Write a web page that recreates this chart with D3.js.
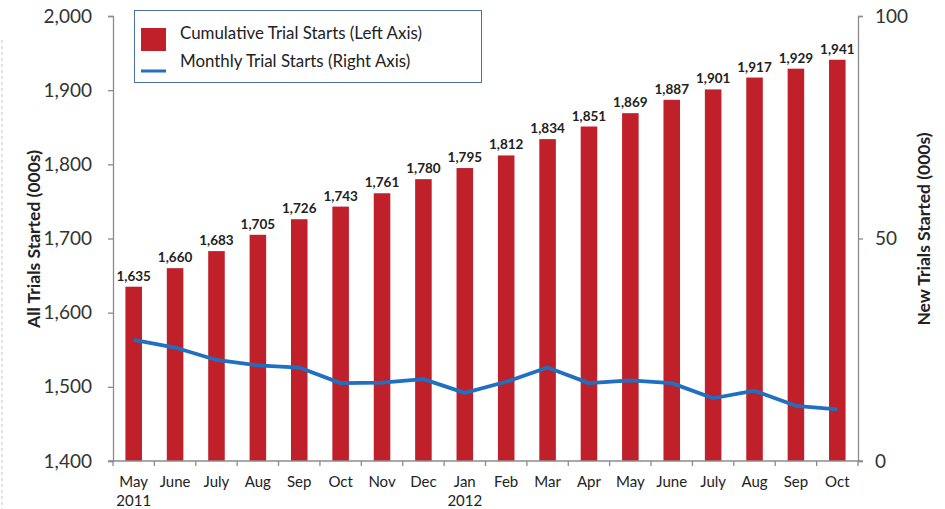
<!DOCTYPE html>
<html><head><meta charset="utf-8">
<script src="https://cdn.jsdelivr.net/npm/d3@7"></script>
<style>body{margin:0;background:#fff}svg{display:block}</style>
</head><body>
<svg id="c" width="945" height="509"></svg>
<script>
const months = ["May","June","July","Aug","Sep","Oct","Nov","Dec","Jan","Feb","Mar","Apr","May","June","July","Aug","Sep","Oct"];
const years = ["2011","","","","","","","","2012","","","","","","","","",""];
const cumulative = [1635,1660,1683,1705,1726,1743,1761,1780,1795,1812,1834,1851,1869,1887,1901,1917,1929,1941];
const monthly = [27.2,25.5,22.7,21.5,21.0,17.5,17.6,18.4,15.3,17.8,21.0,17.5,18.1,17.5,14.1,15.8,12.4,11.6];
const leftTicks = [1400,1500,1600,1700,1800,1900,2000];
const rightTicks = [0,50,100];

const svg = d3.select("#c");
const font = "Lato, 'Open Sans', sans-serif";
const L = 113, R = 858, T = 16, B = 461;
const keys = months.map((m,i)=>i);
const x = d3.scaleBand().domain(keys).range([L,R]).paddingInner(0.6).paddingOuter(0.3);
const yL = d3.scaleLinear().domain([1400,2000]).range([B,T]);
const yR = d3.scaleLinear().domain([0,100]).range([B,T]);
const axisColor = "#8c8c8c";

// dashed left border
svg.append("line").attr("x1",2).attr("x2",2).attr("y1",40).attr("y2",509)
  .attr("stroke","#c8c8c8").attr("stroke-dasharray","3,3");

// bars
svg.append("g").selectAll("rect").data(cumulative).join("rect")
  .attr("x",(d,i)=>x(i)).attr("width",x.bandwidth())
  .attr("y",d=>yL(d)).attr("height",d=>B-yL(d)).attr("fill","#c0202a");

// bar labels
svg.append("g").selectAll("text").data(cumulative).join("text")
  .attr("x",(d,i)=>x(i)+x.bandwidth()/2).attr("y",d=>yL(d)-6)
  .attr("text-anchor","middle").attr("font-family",font).attr("font-weight","bold")
  .attr("font-size",13.5).attr("fill","#222").text(d=>d3.format(",")(d));

// line
const line = d3.line().x((d,i)=>x(i)+x.bandwidth()/2).y(d=>yR(d));
svg.append("path").datum(monthly).attr("d",line).attr("fill","none")
  .attr("stroke","#1f70c1").attr("stroke-width",3.8).attr("stroke-linejoin","round");

// left axis
const gL = svg.append("g").attr("transform",`translate(${L},0)`)
  .call(d3.axisLeft(yL).tickValues(leftTicks).tickFormat(d3.format(",")).tickSize(5).tickPadding(16));
// right axis
const gR = svg.append("g").attr("transform",`translate(${R},0)`)
  .call(d3.axisRight(yR).tickValues(rightTicks).tickSize(5).tickPadding(12));
[gL,gR].forEach(g=>{
  g.select(".domain").attr("stroke",axisColor).attr("stroke-width",1.3);
  g.selectAll(".tick line").attr("stroke",axisColor).attr("stroke-width",1.3);
  g.selectAll(".tick text").attr("font-family",font).attr("font-size",19).attr("fill","#333");
});

// x axis
svg.append("line").attr("x1",L-5).attr("x2",R+5).attr("y1",B).attr("y2",B)
  .attr("stroke",axisColor).attr("stroke-width",1.3);
const stepX = (R-L)/months.length;
svg.append("g").selectAll("line").data(d3.range(months.length+1)).join("line")
  .attr("x1",d=>L+d*stepX).attr("x2",d=>L+d*stepX).attr("y1",B).attr("y2",B+5)
  .attr("stroke",axisColor).attr("stroke-width",1.3);
svg.append("g").selectAll("text").data(months).join("text")
  .attr("x",(d,i)=>x(i)+x.bandwidth()/2).attr("y",487)
  .attr("text-anchor","middle").attr("font-family",font).attr("font-size",15).attr("fill","#222").text(d=>d);
svg.append("g").selectAll("text").data(years).join("text")
  .attr("x",(d,i)=>x(i)+x.bandwidth()/2).attr("y",506)
  .attr("text-anchor","middle").attr("font-family",font).attr("font-size",15).attr("fill","#222").text(d=>d);

// axis titles
svg.append("text").attr("transform","translate(40,239) rotate(-90)").attr("text-anchor","middle")
  .attr("font-family",font).attr("font-weight","bold").attr("font-size",17.5).attr("fill","#222")
  .text("All Trials Started (000s)");
svg.append("text").attr("transform","translate(930,229) rotate(-90)").attr("text-anchor","middle")
  .attr("font-family",font).attr("font-weight","bold").attr("font-size",17.5).attr("fill","#222")
  .text("New Trials Started (000s)");

// legend
const lg = svg.append("g");
lg.append("rect").attr("x",134.5).attr("y",10.5).attr("width",347).attr("height",72)
  .attr("fill","#fff").attr("stroke","#4a6fa5").attr("stroke-width",1);
lg.append("rect").attr("x",141).attr("y",28).attr("width",25).attr("height",23).attr("fill","#c0202a");
lg.append("line").attr("x1",141).attr("x2",166).attr("y1",71).attr("y2",71)
  .attr("stroke","#1f70c1").attr("stroke-width",3);
lg.append("text").attr("x",180).attr("y",38.5).attr("font-family",font).attr("font-size",16.9)
  .attr("fill","#222").text("Cumulative Trial Starts (Left Axis)");
lg.append("text").attr("x",180).attr("y",67).attr("font-family",font).attr("font-size",16.9)
  .attr("fill","#222").text("Monthly Trial Starts (Right Axis)");
</script>
</body></html>
